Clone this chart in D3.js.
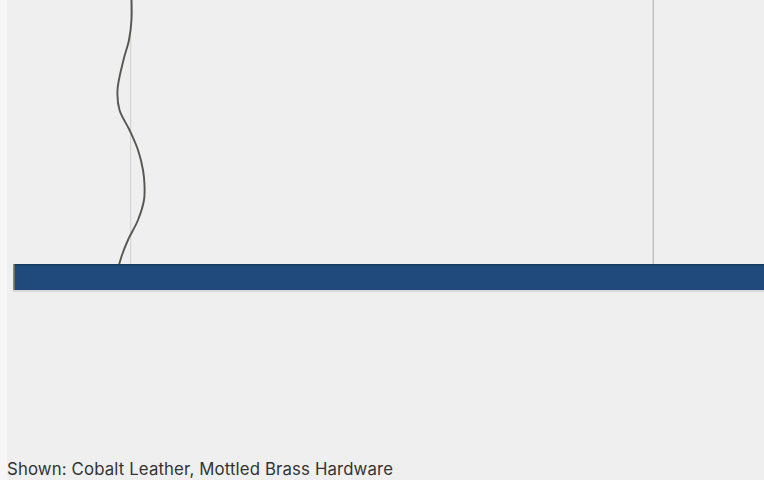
<!DOCTYPE html>
<html>
<head>
<meta charset="utf-8">
<script src="https://cdn.jsdelivr.net/npm/d3@7"></script>
<style>
  html, body { margin: 0; padding: 0; background: #f0f0f0; }
  svg { display: block; }
</style>
</head>
<body>
<svg id="chart" width="764" height="480"></svg>
<script>
// ---- data (photo units: x 0..764, y 0..480 of the scene) ----
const cordY = [0, 20, 40, 60, 90, 110, 130, 150, 170, 185, 200, 220, 240, 255, 265];
const cordX = [131.5, 131.5, 129, 123.5, 117.5, 119.5, 129.5, 138, 143, 144.5, 144, 138, 128, 122, 119];
const cablesX = [130.7, 653.3];
const cableWidths = [1, 1.6];
const barExtent = [13, 764];
const barTopBottom = [264, 290];
const caption = ["Shown: Cobalt Leather, Mottled Brass Hardware"];
const captionSpan = [7, 393];

const W = 764, H = 480;
const x = d3.scaleLinear().domain([0, 764]).range([0, W]);
const y = d3.scaleLinear().domain([0, 480]).range([0, H]);

const svg = d3.select("#chart");

// background + lighter left strip
svg.append("rect").attr("x", 0).attr("y", 0).attr("width", W).attr("height", H).attr("fill", "#efefef");
svg.append("rect").attr("x", 0).attr("y", 0).attr("width", x(7)).attr("height", H).attr("fill", "#f6f6f6");

// suspension cables
svg.selectAll("line.cable").data(cablesX).join("line")
  .attr("class", "cable")
  .attr("x1", d => x(d)).attr("x2", d => x(d))
  .attr("y1", y(0)).attr("y2", y(barTopBottom[0]))
  .attr("stroke", (d, i) => i === 0 ? "#cfcfcf" : "#c4c4c4")
  .attr("stroke-width", (d, i) => cableWidths[i]);

// power cord
const cordPts = cordY.map((v, i) => [cordX[i], v]);
const line = d3.line().x(d => x(d[0])).y(d => y(d[1])).curve(d3.curveCatmullRom.alpha(0.5));
svg.append("path").datum(cordPts)
  .attr("d", line)
  .attr("fill", "none")
  .attr("stroke", "#57564f")
  .attr("stroke-width", 1.9)
  .attr("stroke-linecap", "round");

// bar shadow
svg.append("rect")
  .attr("x", x(barExtent[0])).attr("y", y(barTopBottom[1]))
  .attr("width", x(barExtent[1]) - x(barExtent[0])).attr("height", 2)
  .attr("fill", "#d8d8d8");

// bar
svg.append("rect")
  .attr("x", x(barExtent[0])).attr("y", y(barTopBottom[0]))
  .attr("width", x(barExtent[1]) - x(barExtent[0]))
  .attr("height", y(barTopBottom[1]) - y(barTopBottom[0]))
  .attr("fill", "#1f4a7b");
svg.append("rect")
  .attr("x", x(barExtent[0])).attr("y", y(barTopBottom[0]))
  .attr("width", x(barExtent[1]) - x(barExtent[0]))
  .attr("height", 1.5)
  .attr("fill", "#173a63");
// brass end cap
svg.append("rect")
  .attr("x", x(barExtent[0])).attr("y", y(barTopBottom[0]))
  .attr("width", 1.6)
  .attr("height", y(barTopBottom[1]) - y(barTopBottom[0]))
  .attr("fill", "#8f8a62");

// caption
svg.selectAll("text.caption").data(caption).join("text")
  .attr("class", "caption")
  .attr("x", x(captionSpan[0])).attr("y", y(474.5))
  .attr("font-family", "Inter, 'Noto Sans', sans-serif")
  .attr("font-size", 16.8)
  .attr("textLength", x(captionSpan[1]) - x(captionSpan[0]))
  .attr("lengthAdjust", "spacing")
  .attr("fill", "#333333")
  .text(d => d);
</script>
</body>
</html>
